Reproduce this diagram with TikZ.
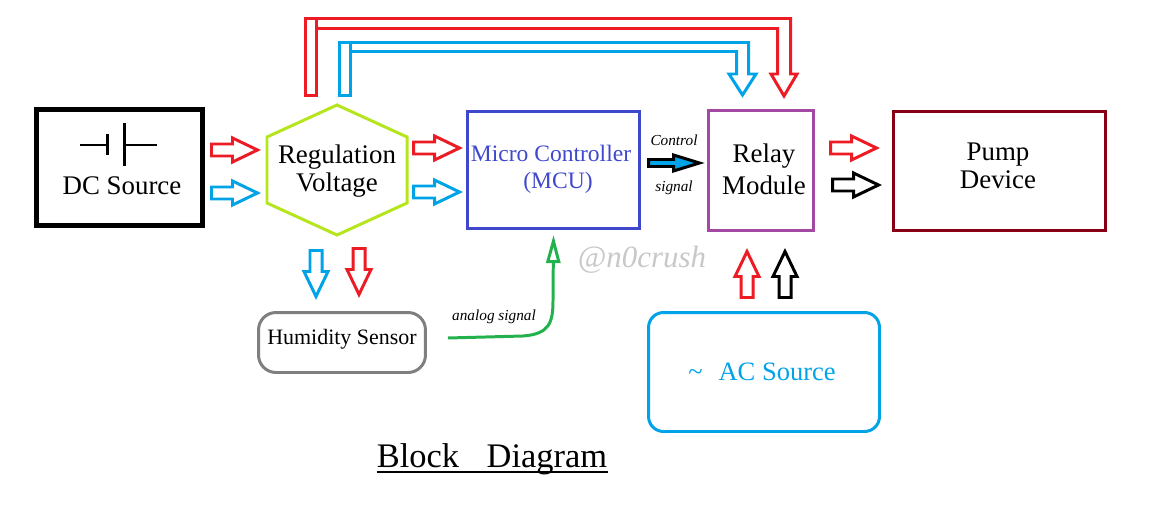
\documentclass[tikz,border=0pt]{standalone}
\usepackage{fontspec}
\setmainfont{Liberation Serif}
\usetikzlibrary{arrows.meta,calc}
\definecolor{pwrred}{HTML}{ED1C24}
\definecolor{pwrblue}{HTML}{00A2E8}
\definecolor{hexlime}{HTML}{B5E61D}
\definecolor{mcublue}{HTML}{3F48CC}
\definecolor{relaypurple}{HTML}{A349A4}
\definecolor{pumpred}{HTML}{880015}
\definecolor{sensorgray}{HTML}{7F7F7F}
\definecolor{siggreen}{HTML}{22B14C}
\definecolor{markgray}{HTML}{C8C8C8}
\tikzset{
    blk/.style={draw, line width=1.7pt, inner sep=0pt},
    txt/.style={inner sep=0pt, align=center, font=\fontsize{15.3}{16}\selectfont},
    smalltxt/.style={inner sep=0pt, font=\fontsize{8.7}{10}\selectfont\itshape},
    fatarrow/.pic={\draw [line width=1.7pt] (0,-6) -- (21,-6) -- (21,-12) -- (46,0) -- (21,12) -- (21,6) -- (0,6) -- cycle;},
    ctrlarrow/.pic={\draw [line width=1.7pt, fill=pwrblue] (0,-3.5) -- (25,-3.5) -- (25,-8) -- (51,0) -- (25,8) -- (25,3.5) -- (0,3.5) -- cycle;}
}
\begin{document}
\begin{tikzpicture}[x=0.02cm, y=-0.02cm]
    \useasboundingbox (0,0) rectangle (1151,520);
    \node [blk, line width=2.8pt, minimum width=3.32cm, minimum height=2.32cm] (dc) at (119.5,167.5) {};
    \node [blk, draw=mcublue, minimum width=3.44cm, minimum height=2.34cm] (mcu) at (553.5,170) {};
    \node [blk, draw=relaypurple, minimum width=2.1cm, minimum height=2.4cm] (relay) at (761,170.5) {};
    \node [blk, draw=pumpred, minimum width=4.24cm, minimum height=2.38cm] (pump) at (999.5,171) {};
    \node [blk, draw=sensorgray, rounded corners=0.35cm, minimum width=3.34cm, minimum height=1.2cm] (hum) at (342,342.5) {};
    \node [blk, draw=pwrblue, rounded corners=0.3cm, minimum width=4.62cm, minimum height=2.38cm] (ac) at (764,372) {};
    \draw [hexlime, line width=1.7pt] (337,105) -- (407,137) -- (407,203) -- (337,235) -- (267,203) -- (267,137) -- cycle;
    \coordinate (reg) at (337,170);

    \draw [line width=1.1pt] (80,145) -- (107.5,145);
    \draw [line width=1.6pt] (107.5,134) -- (107.5,155);
    \draw [line width=1.6pt] (124.5,123) -- (124.5,166);
    \draw [line width=1.1pt] (126,145) -- (157,145);

    \node [txt] (dclabel) at (122,186) {DC Source};
    \node [txt] (reglabel) at (337,171) {Regulation\\Voltage};
    \node [txt, text=mcublue, font=\fontsize{13.4}{15.3}\selectfont] (mculabel) at (551,169) {Micro Controller\\\hspace*{8pt}(MCU)};
    \node [txt, font=\fontsize{15.3}{18}\selectfont] (relaylabel) at (764,169) {Relay\\Module};
    \node [txt] (pumplabel) at (998,166) {Pump\\Device};
    \node [txt, font=\fontsize{12.5}{14}\selectfont] (humlabel) at (342,339) {Humidity Sensor};
    \node [txt, text=pwrblue, font=\fontsize{15.1}{17}\selectfont] (aclabel) at (762,372) {\textasciitilde\hspace{0.6em}AC Source};
    \node [smalltxt] (ctrltop) at (674,140) {Control};
    \node [smalltxt] (ctrlbot) at (674,188) {signal};
    \node [smalltxt] (analog) at (494,317) {analog signal};
    \node [inner sep=0pt, text=markgray, font=\fontsize{17.6}{20}\selectfont\itshape] (mark) at (642,260) {@n0crush};
    \node [inner sep=0pt, font=\fontsize{19.6}{22}\selectfont] (title) at (492,459) {Block\hspace{0.8em}Diagram};
    \draw [line width=1.1pt] ($(title.base west)+(0,5)$) -- ($(title.base east)+(0,5)$);

    \pic [pwrred] at (211.5,150) {fatarrow};
    \pic [pwrblue] at (211.5,193) {fatarrow};
    \pic [pwrred] at (413.5,148) {fatarrow};
    \pic [pwrblue] at (413.5,192) {fatarrow};
    \pic [pwrred] at (830.5,148) {fatarrow};
    \pic [black] at (832.5,185) {fatarrow};
    \pic [pwrblue, rotate=-90] at (316,250.5) {fatarrow};
    \pic [pwrred, rotate=-90] at (359,248.5) {fatarrow};
    \pic [pwrred, rotate=90] at (747,297.5) {fatarrow};
    \pic [black, rotate=90] at (785,297.5) {fatarrow};
    \pic at (648.5,163) {ctrlarrow};

    \draw [pwrred, line width=1.7pt] (305.5,18.5) rectangle (316.5,95.5);
    \draw [pwrred, line width=1.7pt] (316.5,18.5) -- (790.5,18.5) -- (790.5,74) -- (797,74) -- (784,96) -- (771,74) -- (777.5,74) -- (777.5,28.5) -- (316.5,28.5);
    \draw [pwrblue, line width=1.7pt] (339.5,42.5) rectangle (350.5,95.5);
    \draw [pwrblue, line width=1.7pt] (350.5,42.5) -- (748.5,42.5) -- (748.5,74) -- (756,74) -- (742.5,95) -- (729,74) -- (736.5,74) -- (736.5,51.5) -- (350.5,51.5);

    \coordinate (ana) at ($(hum.east)+(21,-4.5)$);
    \draw [siggreen, line width=1.7pt, -{Triangle[open, length=16pt, width=8pt]}] (ana) -- (523,336) .. controls (550,334) and (553,322) .. (553,300) -- ($(mcu.south)+(0,5)$);
\end{tikzpicture}
\end{document}
